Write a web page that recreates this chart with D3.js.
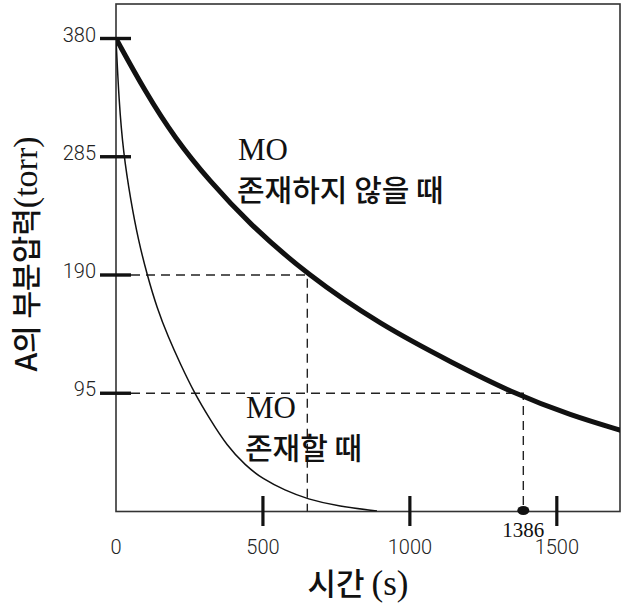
<!DOCTYPE html>
<html>
<head>
<meta charset="utf-8">
<script src="https://cdn.jsdelivr.net/npm/d3@7"></script>
<style>
  body { margin: 0; background: #fff; }
  svg { display: block; }
</style>
</head>
<body>
<script>
// 시간(s)과 A의 부분압력(torr)
var tNoMO = [0, 100, 200, 320, 450, 651, 900, 1148, 1352, 1550, 1721];
var pNoMO = [380, 337, 300, 265, 232, 190, 150, 119, 95, 77, 65];

var tMO = [0, 10, 25, 50, 76, 106, 140, 178, 218, 267, 320, 377, 440, 500, 575, 650, 760, 888];
var pMO = [380, 330, 288, 250, 218, 190, 163, 140, 119, 95, 74, 53, 37, 26, 17, 10, 4, 0.5];

var xTicks = [500, 1000, 1500];
var xTickLabels = [0, 500, 1000, 1500];
var yTicks = [95, 190, 285, 380];

var halfTime = 651, halfP = 190;
var quarterTime = 1386, quarterP = 95;

var width = 622,
    height = 603;

var margin = {top: 4, right: 2, bottom: 92, left: 116};

var x = d3.scaleLinear()
    .domain([0, 1715])
    .range([margin.left, width - margin.right]);

var y = d3.scaleLinear()
    .domain([0, 380])
    .range([511.5, 38.5]);

var svg = d3.select("body").append("svg")
    .attr("width", width)
    .attr("height", height);

svg.append("clipPath")
    .attr("id", "plot")
  .append("rect")
    .attr("x", margin.left)
    .attr("y", margin.top)
    .attr("width", width - margin.right - margin.left)
    .attr("height", 511.5 - margin.top);

// frame
svg.append("rect")
    .attr("x", margin.left)
    .attr("y", margin.top)
    .attr("width", width - margin.right - margin.left)
    .attr("height", 511.5 - margin.top)
    .attr("fill", "none")
    .attr("stroke", "#333")
    .attr("stroke-width", 1.6);

// dashed guides
var guides = [
  [[0, halfP], [halfTime, halfP], [halfTime, 0]],
  [[0, quarterP], [quarterTime, quarterP], [quarterTime, 0]]
];
svg.selectAll(".guide")
    .data(guides)
  .enter().append("path")
    .attr("class", "guide")
    .attr("d", d3.line().x(function(d){ return x(d[0]); }).y(function(d){ return y(d[1]); }))
    .attr("fill", "none")
    .attr("stroke", "#222")
    .attr("stroke-width", 1.4)
    .attr("stroke-dasharray", "9,6");

var line = d3.line()
    .curve(d3.curveBasis)
    .x(function(d){ return x(d[0]); })
    .y(function(d){ return y(d[1]); });

// MO 존재할 때
svg.append("path")
    .datum(d3.zip(tMO, pMO))
    .attr("d", line)
    .attr("clip-path", "url(#plot)")
    .attr("fill", "none")
    .attr("stroke", "#111")
    .attr("stroke-width", 1.5);

// MO 존재하지 않을 때
svg.append("path")
    .datum(d3.zip(tNoMO, pNoMO))
    .attr("d", line)
    .attr("clip-path", "url(#plot)")
    .attr("fill", "none")
    .attr("stroke", "#111")
    .attr("stroke-width", 5);

// y ticks
svg.selectAll(".ytick")
    .data(yTicks)
  .enter().append("line")
    .attr("x1", margin.left - 16)
    .attr("x2", margin.left + 15)
    .attr("y1", function(d){ return y(d); })
    .attr("y2", function(d){ return y(d); })
    .attr("stroke", "#111")
    .attr("stroke-width", 3.4);

svg.selectAll(".ylabel")
    .data(yTicks)
  .enter().append("text")
    .attr("x", 96)
    .attr("y", function(d){ return y(d) + 3; })
    .attr("text-anchor", "end")
    .style("font-family", "Roboto, sans-serif")
    .style("font-weight", 300)
    .style("font-size", "20px")
    .attr("fill", "#222")
    .text(function(d){ return d; });

// x ticks
svg.selectAll(".xtick")
    .data(xTicks)
  .enter().append("line")
    .attr("x1", function(d){ return x(d); })
    .attr("x2", function(d){ return x(d); })
    .attr("y1", 496)
    .attr("y2", 526)
    .attr("stroke", "#111")
    .attr("stroke-width", 3.2);

svg.selectAll(".xlabel")
    .data(xTickLabels)
  .enter().append("text")
    .attr("x", function(d){ return x(d); })
    .attr("y", 554)
    .attr("text-anchor", "middle")
    .style("font-family", "Roboto, sans-serif")
    .style("font-weight", 300)
    .style("font-size", "20px")
    .attr("fill", "#222")
    .text(function(d){ return d; });

// 1386 marker
svg.append("ellipse")
    .attr("cx", x(quarterTime))
    .attr("cy", y(0) - 1)
    .attr("rx", 6)
    .attr("ry", 4.6)
    .attr("fill", "#111");

svg.append("text")
    .attr("x", x(quarterTime))
    .attr("y", 537)
    .attr("text-anchor", "middle")
    .style("font-family", "'Liberation Serif', serif")
    .style("font-size", "21px")
    .attr("fill", "#111")
    .text(quarterTime);

// annotations
var ann = svg.append("g")
    .attr("fill", "#111");

ann.append("text")
    .attr("x", 238)
    .attr("y", 160)
    .style("font-family", "'Liberation Serif', serif")
    .style("font-size", "31px")
    .text("MO");
ann.append("text")
    .attr("x", 237)
    .attr("y", 201)
    .style("font-family", "'Noto Sans CJK KR', sans-serif")
    .style("font-weight", 500)
    .style("font-size", "30px")
    .text("존재하지 않을 때");

ann.append("text")
    .attr("x", 246)
    .attr("y", 418)
    .style("font-family", "'Liberation Serif', serif")
    .style("font-size", "31px")
    .text("MO");
ann.append("text")
    .attr("x", 245)
    .attr("y", 459)
    .style("font-family", "'Noto Sans CJK KR', sans-serif")
    .style("font-weight", 500)
    .style("font-size", "30px")
    .text("존재할 때");

// axis titles
var xt = svg.append("text")
    .attr("x", 358)
    .attr("y", 595)
    .attr("text-anchor", "middle")
    .attr("fill", "#111")
    .style("font-family", "'Noto Sans CJK KR', sans-serif")
    .style("font-weight", 500)
    .style("font-size", "31px");
xt.append("tspan").text("시간 ");
xt.append("tspan").style("font-family", "'Liberation Serif', serif").style("font-size", "35px").text("(s)");

var yt = svg.append("text")
    .attr("transform", "translate(37,254) rotate(-90)")
    .attr("text-anchor", "middle")
    .attr("fill", "#111")
    .style("font-family", "'Noto Sans CJK KR', sans-serif")
    .style("font-weight", 500)
    .style("font-size", "30px");
yt.append("tspan").text("A의 부분압력");
yt.append("tspan").style("font-family", "'Liberation Serif', serif").style("font-size", "34px").text("(torr)");
</script>
</body>
</html>
